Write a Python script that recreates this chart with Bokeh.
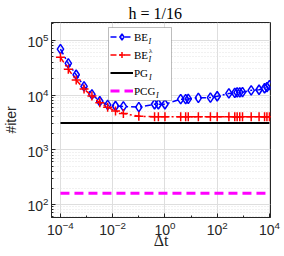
from bokeh.plotting import figure
from bokeh.models import (FixedTicker, Range1d, Legend, LegendItem, Label,
                          LogTickFormatter, BoxAnnotation)
from bokeh.embed import file_html
from bokeh.resources import INLINE

# ---- data ----
dt = [1e-4, 2e-4, 4e-4, 8e-4, 1.6e-3, 3.2e-3, 6.4e-3, 1.28e-2, 2.56e-2, 0.1,
      0.4, 0.56, 1.0, 4.0, 6.2, 7.8, 19, 55, 100, 280, 470, 580, 730, 930,
      2000, 4000, 6500, 8000, 10000]
be_I = [69000, 38000, 23500, 14400, 10300, 7700, 6600, 6300, 6200, 6000,
        6800, 6800, 6800, 8400, 8400, 8500, 8900, 9000, 9500, 10700, 11000,
        11200, 11200, 11300, 12200, 12500, 13300, 14000, 15200]
be_lam = [49000, 29500, 18800, 12900, 9600, 7200, 6000, 5100, 4600, 4100,
          4000, 4000, 4000, 4000, 4000, 4000, 4000, 4000, 4000, 4000, 4000,
          4000, 4000, 4000, 4000, 4000, 4000, 4000, 4000]
pg_level = 3100
pcg_level = 160
x_ticks = [1e-4, 1e-2, 1, 1e2, 1e4]
x_minor = [1e-3, 1e-1, 10, 1e3]
y_ticks = [1e2, 1e3, 1e4, 1e5]

W, H = 284, 256
BL, BR, BT, BB = 50, 14, 22, 39
FW, FH = W - BL - BR, H - BT - BB

p = figure(width=W, height=H, x_axis_type="log", y_axis_type="log",
           x_range=Range1d(4.54e-5, 1.096e4), y_range=Range1d(57.8, 2.12e5),
           output_backend="svg", toolbar_location=None, title="h = 1/16",
           min_border_left=BL, min_border_right=BR, min_border_top=BT,
           min_border_bottom=BB)
p.background_fill_color = "white"
p.outline_line_color = "#262626"
p.outline_line_width = 1

p.title.text_font = "Liberation Serif"
p.title.text_font_size = "16px"
p.title.text_font_style = "normal"
p.title.text_color = "black"
p.title.align = "left"
p.title.offset = 77
p.title.standoff = 2

y_minor = [k * 10.0 ** e for e in range(1, 6) for k in range(2, 10)]
p.xaxis.ticker = FixedTicker(ticks=x_ticks, minor_ticks=x_minor)
p.yaxis.ticker = FixedTicker(ticks=y_ticks, minor_ticks=y_minor)
for ax in (p.xaxis, p.yaxis):
    ax.formatter = LogTickFormatter()
    ax.axis_line_color = "#262626"
    ax.major_tick_line_color = "#262626"
    ax.minor_tick_line_color = "#262626"
    ax.major_tick_in = 4
    ax.major_tick_out = 0
    ax.minor_tick_in = 2
    ax.minor_tick_out = 0
    ax.major_label_text_font = "Liberation Sans"
    ax.major_label_text_font_size = "14px"
    ax.major_label_text_color = "#262626"
    ax.axis_label_text_font_style = "normal"
    ax.axis_label_text_color = "#262626"
p.xaxis.major_label_standoff = 3
p.yaxis.major_label_standoff = 3
p.yaxis.axis_label = "#iter"
p.yaxis.axis_label_text_font = "Liberation Sans"
p.yaxis.axis_label_text_font_size = "14px"
p.yaxis.axis_label_standoff = 5
p.xaxis.axis_label = "Δt"
p.xaxis.axis_label_text_font = "Liberation Serif"
p.xaxis.axis_label_text_font_size = "16px"
p.xaxis.axis_label_standoff = -6

p.xgrid.grid_line_color = "#dedede"
p.ygrid.grid_line_color = "#dedede"
p.ygrid.minor_grid_line_color = "#e2e2e2"
p.ygrid.minor_grid_line_dash = "1 2"

# ---- series ----
l1 = p.line(dt, be_I, color="#0000ff", line_width=1.5, line_dash="6 3 2 3")
s1 = p.scatter(dt, be_I, marker="diamond", size=9.5, line_color="#0000ff",
               fill_color=None, line_width=1.5)
l2 = p.line(dt, be_lam, color="#ff0000", line_width=1.5, line_dash="6 3 2 3")
s2 = p.scatter(dt, be_lam, marker="cross", size=9, line_color="#ff0000",
               line_width=1.5)
l3 = p.line([dt[0], dt[-1]], [pg_level, pg_level], color="black", line_width=2)
l4 = p.line([dt[0], dt[-1]], [pcg_level, pcg_level], color="#ff00ff",
            line_width=3, line_dash="9 5")

# ---- legend (box drawn underneath, legend itself transparent) ----
pad, gh, sp, gw, stand = 2, 15, 3, 23, 1
leg_left, leg_top = 57, FH - 5
n = 4
leg_h = 2 * pad + n * gh + (n - 1) * sp
leg_w = 63
p.add_layout(BoxAnnotation(left=leg_left, right=leg_left + leg_w, top=leg_top,
                           bottom=leg_top - leg_h, left_units="screen",
                           right_units="screen", top_units="screen",
                           bottom_units="screen", fill_color="white", fill_alpha=1,
                           line_color="#262626", line_width=1))
legend = Legend(items=[LegendItem(label="BE", renderers=[l1, s1]),
                       LegendItem(label="BE", renderers=[l2, s2]),
                       LegendItem(label="PG", renderers=[l3]),
                       LegendItem(label="PCG", renderers=[l4])],
                location=(leg_left, leg_top - leg_h), margin=0, padding=pad,
                spacing=sp, glyph_width=gw, glyph_height=gh, label_height=gh,
                label_standoff=stand, label_width=34,
                label_text_font="Liberation Serif", label_text_font_size="11px",
                label_text_color="black", border_line_alpha=0,
                background_fill_alpha=0)
p.add_layout(legend, "center")

tx = leg_left + pad + gw + stand
sub_dx = [14, 14, 14.5, 21.5]
for i in range(n):
    cy = leg_top - pad - gh / 2 - i * (gh + sp)
    p.add_layout(Label(x=tx + sub_dx[i], y=cy - 4, x_units="screen", y_units="screen",
                       text="I", text_font="Liberation Serif", text_font_style="italic",
                       text_font_size="8px", text_baseline="middle", text_color="black"))
p.add_layout(Label(x=tx + 14.5, y=leg_top - pad - gh / 2 - (gh + sp) + 4, x_units="screen",
                   y_units="screen", text="λ", text_font="Liberation Serif",
                   text_font_size="7px", text_baseline="middle", text_color="black"))

open("out.html", "w").write(file_html(p, INLINE))
